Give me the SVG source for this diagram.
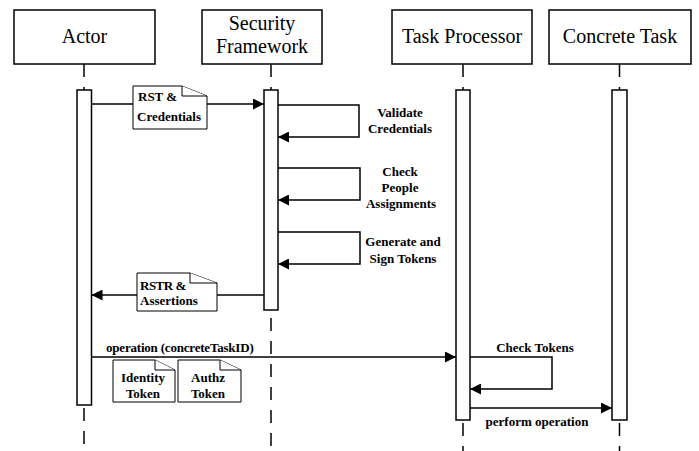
<svg xmlns="http://www.w3.org/2000/svg" width="699" height="451" viewBox="0 0 699 451">
<style>
.box{fill:#fff;stroke:#000;stroke-width:1.5}
.act{fill:#fff;stroke:#000;stroke-width:1.5}
.life{stroke:#000;stroke-width:1.5;stroke-dasharray:13 10;fill:none}
.msg{stroke:#000;stroke-width:1.5;fill:none}
.note{fill:#fff;stroke:#000;stroke-width:1}
.hd{font-family:"Liberation Serif","Times New Roman",serif;font-size:20px;fill:#000;text-anchor:middle}
.lb{font-family:"Liberation Serif","Times New Roman",serif;font-size:13px;font-weight:bold;fill:#000}
.c{text-anchor:middle}
</style>
<defs>
<marker id="ah" markerUnits="userSpaceOnUse" markerWidth="11" markerHeight="11" refX="11" refY="5.5" orient="auto">
<path d="M0,0 L11,5.5 L0,11 z" fill="#000"/>
</marker>
</defs>
<rect width="699" height="451" fill="#fff"/>
<g id="lifelines">
<line class="life" x1="84" y1="64" x2="84" y2="90"/>
<line class="life" x1="84" y1="408" x2="84" y2="451"/>
<line class="life" x1="271" y1="64" x2="271" y2="90"/>
<line class="life" x1="271" y1="318" x2="271" y2="451"/>
<line class="life" x1="463" y1="64" x2="463" y2="90"/>
<line class="life" x1="463" y1="423" x2="463" y2="451"/>
<line class="life" x1="619.5" y1="64" x2="619.5" y2="90"/>
<line class="life" x1="619.5" y1="423" x2="619.5" y2="451"/>
</g>
<g id="actor">
<rect class="box" x="14" y="10" width="141" height="54"/>
<text class="hd" x="84.5" y="43">Actor</text>
<rect class="act" x="77" y="90" width="14.5" height="315"/>
</g>
<g id="security-framework">
<rect class="box" x="202" y="10" width="120" height="54"/>
<text class="hd" x="262" y="30">Security</text>
<text class="hd" x="262" y="53">Framework</text>
<rect class="act" x="264" y="90" width="14" height="220"/>
</g>
<g id="task-processor">
<rect class="box" x="392" y="10" width="140" height="54"/>
<text class="hd" x="462" y="43">Task Processor</text>
<rect class="act" x="456" y="90" width="14" height="330"/>
</g>
<g id="concrete-task">
<rect class="box" x="549" y="10" width="142" height="54"/>
<text class="hd" x="620" y="43">Concrete Task</text>
<rect class="act" x="612" y="90" width="15" height="330"/>
</g>
<g id="connectors">
<line class="msg" x1="91.5" y1="104" x2="264" y2="104" marker-end="url(#ah)"/>
<polyline class="msg" points="278,105 359,105 359,137 278,137" marker-end="url(#ah)"/>
<polyline class="msg" points="278,168 360,168 360,200 278,200" marker-end="url(#ah)"/>
<polyline class="msg" points="278,232 360,232 360,264 278,264" marker-end="url(#ah)"/>
<line class="msg" x1="264" y1="295" x2="91.5" y2="295" marker-end="url(#ah)"/>
<line class="msg" x1="91.5" y1="357" x2="456" y2="357" marker-end="url(#ah)"/>
<polyline class="msg" points="470,357 552,357 552,389 470,389" marker-end="url(#ah)"/>
<line class="msg" x1="470" y1="408" x2="612" y2="408" marker-end="url(#ah)"/>
</g>
<g id="labels">
<text class="lb c" x="400" y="117">Validate</text>
<text class="lb c" x="400" y="133">Credentials</text>
<text class="lb c" x="400" y="176">Check</text>
<text class="lb c" x="400" y="192">People</text>
<text class="lb c" x="401" y="208">Assignments</text>
<text class="lb c" x="403" y="246">Generate and</text>
<text class="lb c" x="403" y="263">Sign Tokens</text>
<text class="lb" x="106" y="352" letter-spacing="-0.2">operation (concreteTaskID)</text>
<text class="lb c" x="535" y="352">Check Tokens</text>
<text class="lb c" x="537" y="426">perform operation</text>
</g>
<g id="note-rst">
<path class="note" d="M133,86 H182 L207,96 V129 H133 Z"/>
<path class="note" d="M182,86 V96 H207" fill="none"/>
<text class="lb" x="138" y="101">RST &amp;</text>
<text class="lb" x="137" y="121">Credentials</text>
</g>
<g id="note-rstr">
<path class="note" d="M137,273 H190 L217,283 V311 H137 Z"/>
<path class="note" d="M190,273 V283 H217" fill="none"/>
<text class="lb" x="140" y="290" letter-spacing="-0.5">RSTR &amp;</text>
<text class="lb" x="140" y="305">Assertions</text>
</g>
<g id="note-identity">
<path class="note" d="M113,360 H155 L175,370 V402 H113 Z"/>
<path class="note" d="M155,360 V370 H175" fill="none"/>
<text class="lb c" x="143" y="382">Identity</text>
<text class="lb c" x="143" y="398">Token</text>
</g>
<g id="note-authz">
<path class="note" d="M178,360 H220 L241,370 V402 H178 Z"/>
<path class="note" d="M220,360 V370 H241" fill="none"/>
<text class="lb c" x="208" y="382">Authz</text>
<text class="lb c" x="208" y="398">Token</text>
</g>
</svg>
